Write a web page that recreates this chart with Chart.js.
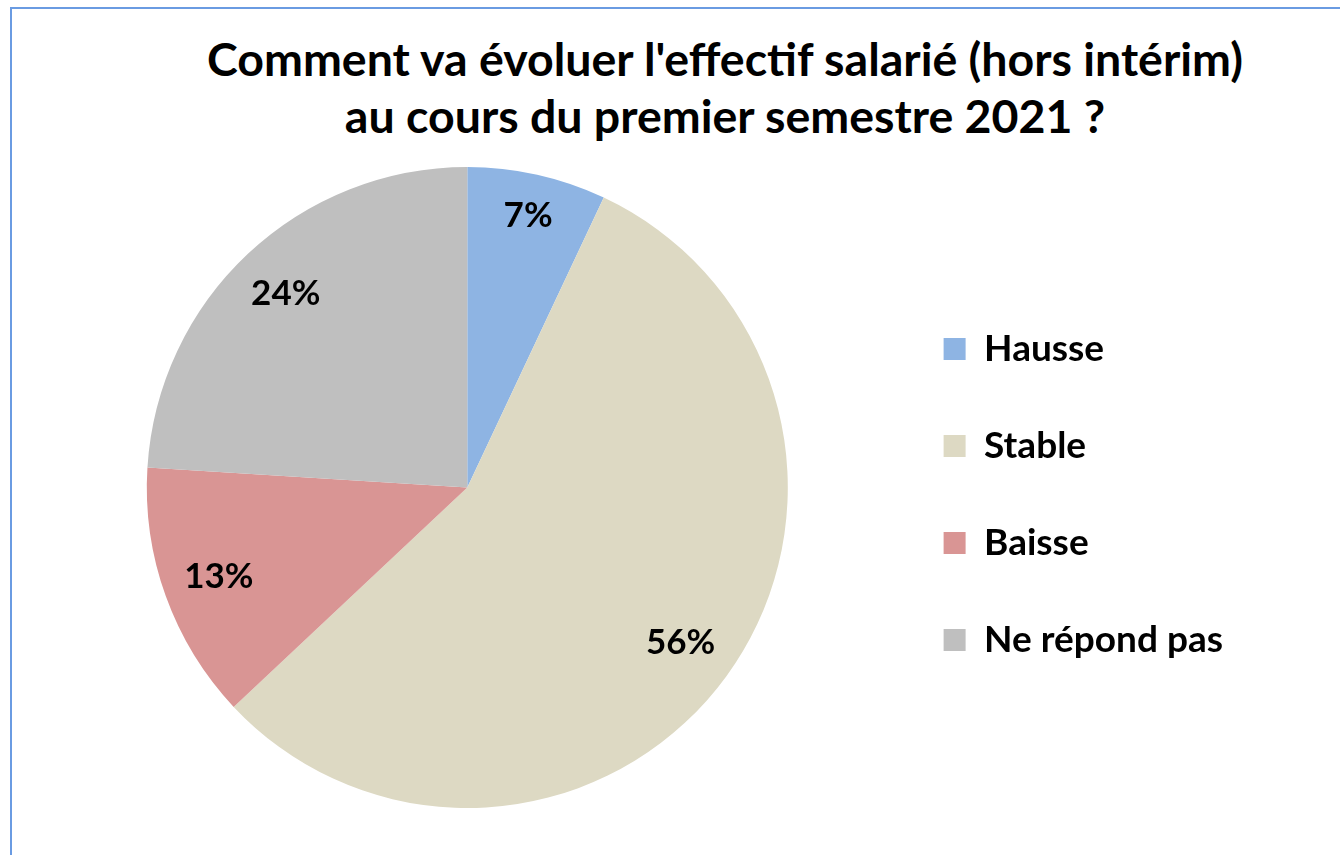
<!DOCTYPE html>
<html lang="fr">
<head>
<meta charset="utf-8">
<title>Effectif salarié 2021</title>
<script src="https://cdn.jsdelivr.net/npm/chart.js@4.4.1/dist/chart.umd.min.js"></script>
<style>
  html, body { margin: 0; padding: 0; background: #fff; }
  body { width: 1340px; height: 855px; position: relative; overflow: hidden; font-family: Lato, sans-serif; }
  /* cadre bleu du graphique (seulement haut et gauche visibles) */
  #cadre { position: absolute; left: 10px; top: 7px; right: -20px; bottom: -20px; border-left: 2px solid #6a9be2; border-top: 2px solid #6a9be2; }
  #titre { position: absolute; left: 110px; width: 1230px; top: 30px; text-align: center; font-weight: 700; font-size: 46.5px; line-height: 57px; color: #000; }
  #zone { position: absolute; left: 0; top: 0; width: 1340px; height: 855px; }
</style>
</head>
<body>
<div id="cadre"></div>
<div id="titre">Comment va évoluer l'effectif salarié (hors intérim)<br>au cours du premier semestre 2021 ?</div>
<div id="zone"><canvas id="pieChart"></canvas></div>
<script>
// Données
const categories = ["Hausse", "Stable", "Baisse", "Ne répond pas"];
const valeurs = [7, 56, 13, 24]; // en %
const couleurs = ["#8eb4e3", "#ddd9c3", "#d99594", "#bfbfbf"];

// Étiquettes de pourcentage dans les parts (position "extrémité intérieure")
const etiquettes = {
  id: "etiquettes",
  afterDatasetsDraw(chart) {
    const ctx = chart.ctx;
    const meta = chart.getDatasetMeta(0);
    ctx.save();
    ctx.font = "bold 35px Lato";
    ctx.fillStyle = "#000";
    ctx.textAlign = "center";
    ctx.textBaseline = "middle";
    meta.data.forEach((arc, i) => {
      const p = arc.getProps(["x", "y", "startAngle", "endAngle", "outerRadius"], true);
      const texte = valeurs[i] + "%";
      const milieu = (p.startAngle + p.endAngle) / 2;
      const cx = Math.cos(milieu);
      const sy = Math.sin(milieu);
      const demiLargeur = ctx.measureText(texte).width / 2;
      const recul = 17 + Math.abs(cx) * demiLargeur + Math.abs(sy) * 20;
      const d = p.outerRadius - recul;
      ctx.fillText(texte, p.x + cx * d, p.y + sy * d);
    });
    ctx.restore();
  },
};

const ctx = document.getElementById("pieChart").getContext("2d");
const pieChart = new Chart(ctx, {
  type: "pie",
  data: {
    labels: categories,
    datasets: [
      {
        data: valeurs,
        backgroundColor: couleurs,
        borderWidth: 0,
      },
    ],
  },
  options: {
    responsive: true,
    maintainAspectRatio: false,
    animation: false,
    layout: {
      padding: { top: 167, bottom: 47, left: 51, right: 107 },
    },
    plugins: {
      tooltip: { enabled: false },
      legend: {
        position: "right",
        // titre vide : décale un peu la légende vers le bas
        title: { display: true, text: "", padding: 1, font: { size: 10 } },
        labels: {
          boxWidth: 22,
          boxHeight: 22,
          padding: 60,
          color: "#000",
          font: { family: "Lato", size: 37, weight: "bold" },
        },
      },
    },
  },
  plugins: [etiquettes],
});
</script>
</body>
</html>
